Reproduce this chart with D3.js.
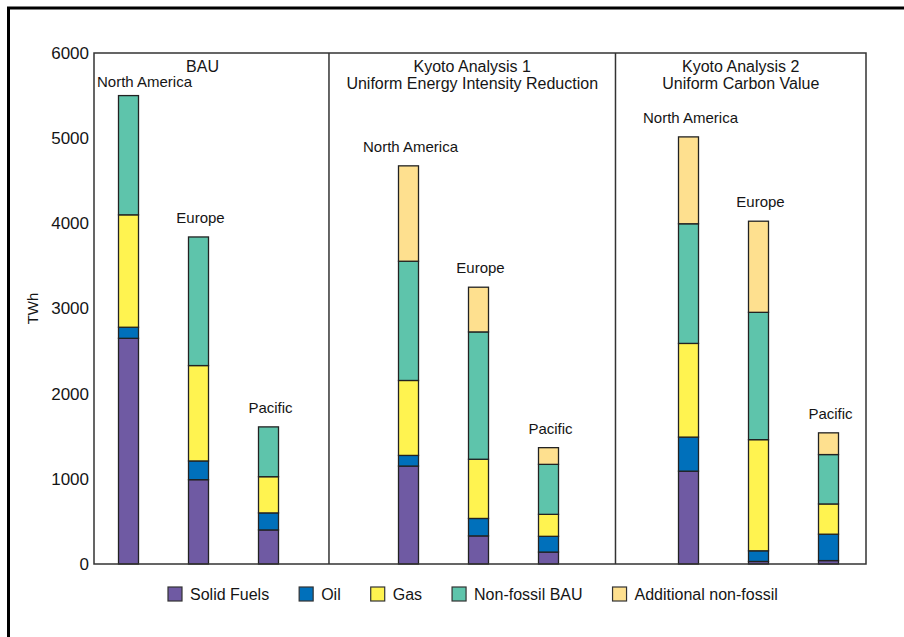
<!DOCTYPE html>
<html>
<head>
<meta charset="utf-8">
<script src="https://cdn.jsdelivr.net/npm/d3@7"></script>
<style>
  body { margin: 0; background: #fff; }
  text { font-family: "Liberation Sans", Arial, sans-serif; fill: #151515; }
</style>
</head>
<body>
<svg id="chart" width="904" height="637"></svg>
<script>
// chart values (TWh)
const panels = ["BAU", "Kyoto Analysis 1", "Kyoto Analysis 2"];
const panelSubtitles = ["", "Uniform Energy Intensity Reduction", "Uniform Carbon Value"];
const regions = ["North America", "Europe", "Pacific"];
const fuels = ["Solid Fuels", "Oil", "Gas", "Non-fossil BAU", "Additional non-fossil"];
const fuelColors = ["#6f5aa3", "#0070bb", "#fff350", "#5ec4ab", "#fee08f"];

// one value per bar: BAU NA, EU, PAC, Kyoto1 NA, EU, PAC, Kyoto2 NA, EU, PAC
const solidFuels = [2650, 990, 400, 1150, 330, 140, 1090, 30, 40];
const oil = [130, 220, 200, 125, 205, 185, 400, 125, 310];
const gas = [1320, 1120, 425, 880, 695, 258, 1100, 1305, 355];
const nonFossilBAU = [1400, 1510, 585, 1400, 1495, 587, 1405, 1495, 580];
const additionalNonFossil = [0, 0, 0, 1120, 525, 196, 1020, 1070, 255];

const yTicks = [0, 1000, 2000, 3000, 4000, 5000, 6000];

var svg = d3.select("#chart");

// outer frame (runs off the right and bottom of the picture)
svg.append("rect")
  .attr("x", 8.5).attr("y", 8)
  .attr("width", 1000).attr("height", 1000)
  .attr("fill", "none").attr("stroke", "#000").attr("stroke-width", 3);

var plotLeft = 94, plotRight = 866, plotTop = 53, plotBottom = 564;

// bars sit in slots 0..10, one empty slot between panels
var x = d3.scaleLinear().domain([0, 10]).range([128.5, 828.5]);
var y = d3.scaleLinear().domain([0, 6000]).range([plotBottom, plotTop]);
var barW = 20;
var panelEdges = [x.invert(plotLeft), 2.864, 6.957, x.invert(plotRight)];

var rows = solidFuels.map((d, i) => {
  return {
    panel: Math.floor(i / 3),
    region: regions[i % 3],
    slot: Math.floor(i / 3) * 4 + (i % 3),
    "Solid Fuels": solidFuels[i],
    "Oil": oil[i],
    "Gas": gas[i],
    "Non-fossil BAU": nonFossilBAU[i],
    "Additional non-fossil": additionalNonFossil[i]
  };
});

var stack = d3.stack().keys(fuels);
var series = stack(rows);

// y axis labels
var yAxis = d3.axisLeft(y).tickValues(yTicks).tickFormat(d3.format("d"))
  .tickSize(0).tickPadding(5);
var gy = svg.append("g").attr("transform", `translate(${plotLeft},0)`).call(yAxis);
gy.select(".domain").remove();
gy.selectAll("text")
  .style("font-family", "Liberation Sans, Arial, sans-serif")
  .style("font-size", "17px")
  .attr("fill", "#151515");

svg.append("text")
  .attr("transform", `translate(38,${y(3000)}) rotate(-90)`)
  .attr("text-anchor", "middle")
  .style("font-size", "15px")
  .text("TWh");

// bars
svg.append("g")
  .selectAll("g")
  .data(series)
  .join("g")
  .attr("fill", (d, i) => fuelColors[i])
  .selectAll("rect")
  .data(d => d.filter(s => s[1] > s[0]))
  .join("rect")
  .attr("x", d => x(d.data.slot) - barW / 2)
  .attr("y", d => y(d[1]))
  .attr("width", barW)
  .attr("height", d => y(d[0]) - y(d[1]))
  .attr("stroke", "#222")
  .attr("stroke-width", 1.3);

// region labels above each bar
rows.forEach((r, i) => {
  var total = fuels.reduce((s, k) => s + r[k], 0);
  var t = svg.append("text")
    .attr("y", y(total) - 14)
    .style("font-size", "15px")
    .text(r.region);
  if (i === 0) {
    t.attr("x", plotLeft + 3).attr("y", y(total) - 9).attr("text-anchor", "start");
  } else {
    t.attr("x", x(r.slot) + 2).attr("text-anchor", "middle");
  }
});

// plot box and panel dividers
svg.append("rect")
  .attr("x", plotLeft).attr("y", plotTop)
  .attr("width", plotRight - plotLeft).attr("height", plotBottom - plotTop)
  .attr("fill", "none").attr("stroke", "#333").attr("stroke-width", 1.5);

svg.append("g")
  .selectAll("line")
  .data(panelEdges.slice(1, 3))
  .join("line")
  .attr("x1", d => x(d)).attr("x2", d => x(d))
  .attr("y1", plotTop).attr("y2", plotBottom)
  .attr("stroke", "#333").attr("stroke-width", 1.5);

// panel titles
panels.forEach((p, i) => {
  var cx = (x(panelEdges[i]) + x(panelEdges[i + 1])) / 2;
  if (i === 0) cx -= 9;
  svg.append("text")
    .attr("x", cx).attr("y", 72)
    .attr("text-anchor", "middle")
    .style("font-size", "16px")
    .text(p);
  if (panelSubtitles[i]) {
    svg.append("text")
      .attr("x", cx).attr("y", 89)
      .attr("text-anchor", "middle")
      .style("font-size", "16px")
      .text(panelSubtitles[i]);
  }
});

// legend
var legend = svg.append("g");
var lx = 168;
fuels.forEach((f, i) => {
  legend.append("rect")
    .attr("x", lx).attr("y", 587)
    .attr("width", 14).attr("height", 14)
    .attr("fill", fuelColors[i])
    .attr("stroke", "#333").attr("stroke-width", 1.2);
  var t = legend.append("text")
    .attr("x", lx + 22).attr("y", 600)
    .style("font-size", "16px")
    .text(f);
  lx += 22 + t.node().getComputedTextLength() + 30;
});
</script>
</body>
</html>
